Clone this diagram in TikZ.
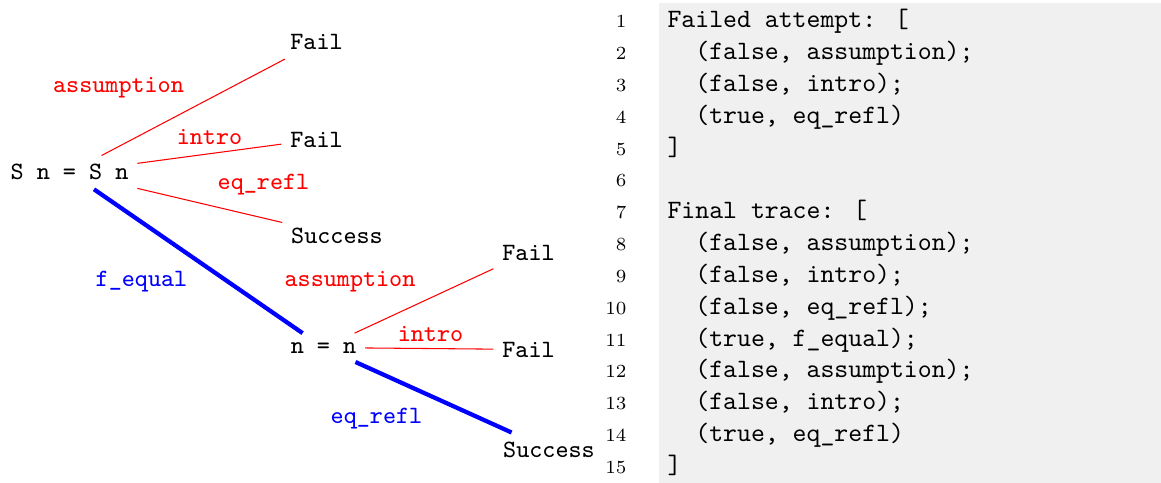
\documentclass[tikz,border=0pt]{standalone}
\begin{document}
\begin{tikzpicture}[x=0.3774pt,y=-0.3774pt,
  treefont/.style={font=\ttfamily\fontsize{9.4pt}{11.3pt}\selectfont},
  tnode/.style={treefont, anchor=base, inner sep=3.2pt},
  redlab/.style={treefont, text=red, anchor=base, inner sep=0pt},
  bluelab/.style={treefont, text=blue, anchor=base, inner sep=0pt},
  failedge/.style={draw=red, line width=0.4pt},
  okedge/.style={draw=blue, line width=1.6pt},
  codeline/.style={font=\ttfamily, anchor=base west, inner sep=0pt},
  lnum/.style={font=\scriptsize, anchor=base east, inner sep=0pt}]
\definecolor{codebg}{RGB}{240,240,240}
\useasboundingbox (0,0) rectangle (1161,483);
\fill[codebg] (659,3) rectangle (1161,483);

% tree nodes
\node[tnode] (sn) at (69.5,180) {S n = S n};
\node[tnode] (f1) at (316.5,50) {Fail};
\node[tnode] (f2) at (316.5,147) {Fail};
\node[tnode] (s1) at (337,243) {Success};
\node[tnode] (nn) at (323.5,353) {n = n};
\node[tnode] (f3) at (528.5,260) {Fail};
\node[tnode] (f4) at (528.5,357) {Fail};
\node[tnode] (s2) at (549,457) {Success};

% edges
\draw[failedge] (sn) -- (f1);
\draw[failedge] (sn) -- (f2);
\draw[failedge] (sn) -- (s1);
\draw[okedge] (sn) -- (nn);
\draw[failedge] (nn) -- (f3);
\draw[failedge] (nn) -- (f4);
\draw[okedge] (nn) -- (s2);

% edge labels
\node[redlab] (l1) at (118.5,93) {assumption};
\node[redlab] (l2) at (209.5,145) {intro};
\node[redlab] (l3) at (263.5,190) {eq\_refl};
\node[bluelab] (l4) at (141.5,287) {f\_equal};
\node[redlab] (l5) at (350,287) {assumption};
\node[redlab] (l6) at (430.5,341) {intro};
\node[bluelab] (l7) at (376.5,423) {eq\_refl};

% code listing
\foreach \n/\t in {1/{Failed attempt: [},
                   2/{\ \ (false, assumption);},
                   3/{\ \ (false, intro);},
                   4/{\ \ (true, eq\_refl)},
                   5/{]},
                   6/{},
                   7/{Final trace: [},
                   8/{\ \ (false, assumption);},
                   9/{\ \ (false, intro);},
                   10/{\ \ (false, eq\_refl);},
                   11/{\ \ (true, f\_equal);},
                   12/{\ \ (false, assumption);},
                   13/{\ \ (false, intro);},
                   14/{\ \ (true, eq\_refl)},
                   15/{]}} {
  \node[lnum] (num\n) at (627,{28+(\n-1)*31.8}) {\n};
  \node[codeline] (code\n) at (667,{28+(\n-1)*31.8}) {\strut\t};
}
\end{tikzpicture}
\end{document}
